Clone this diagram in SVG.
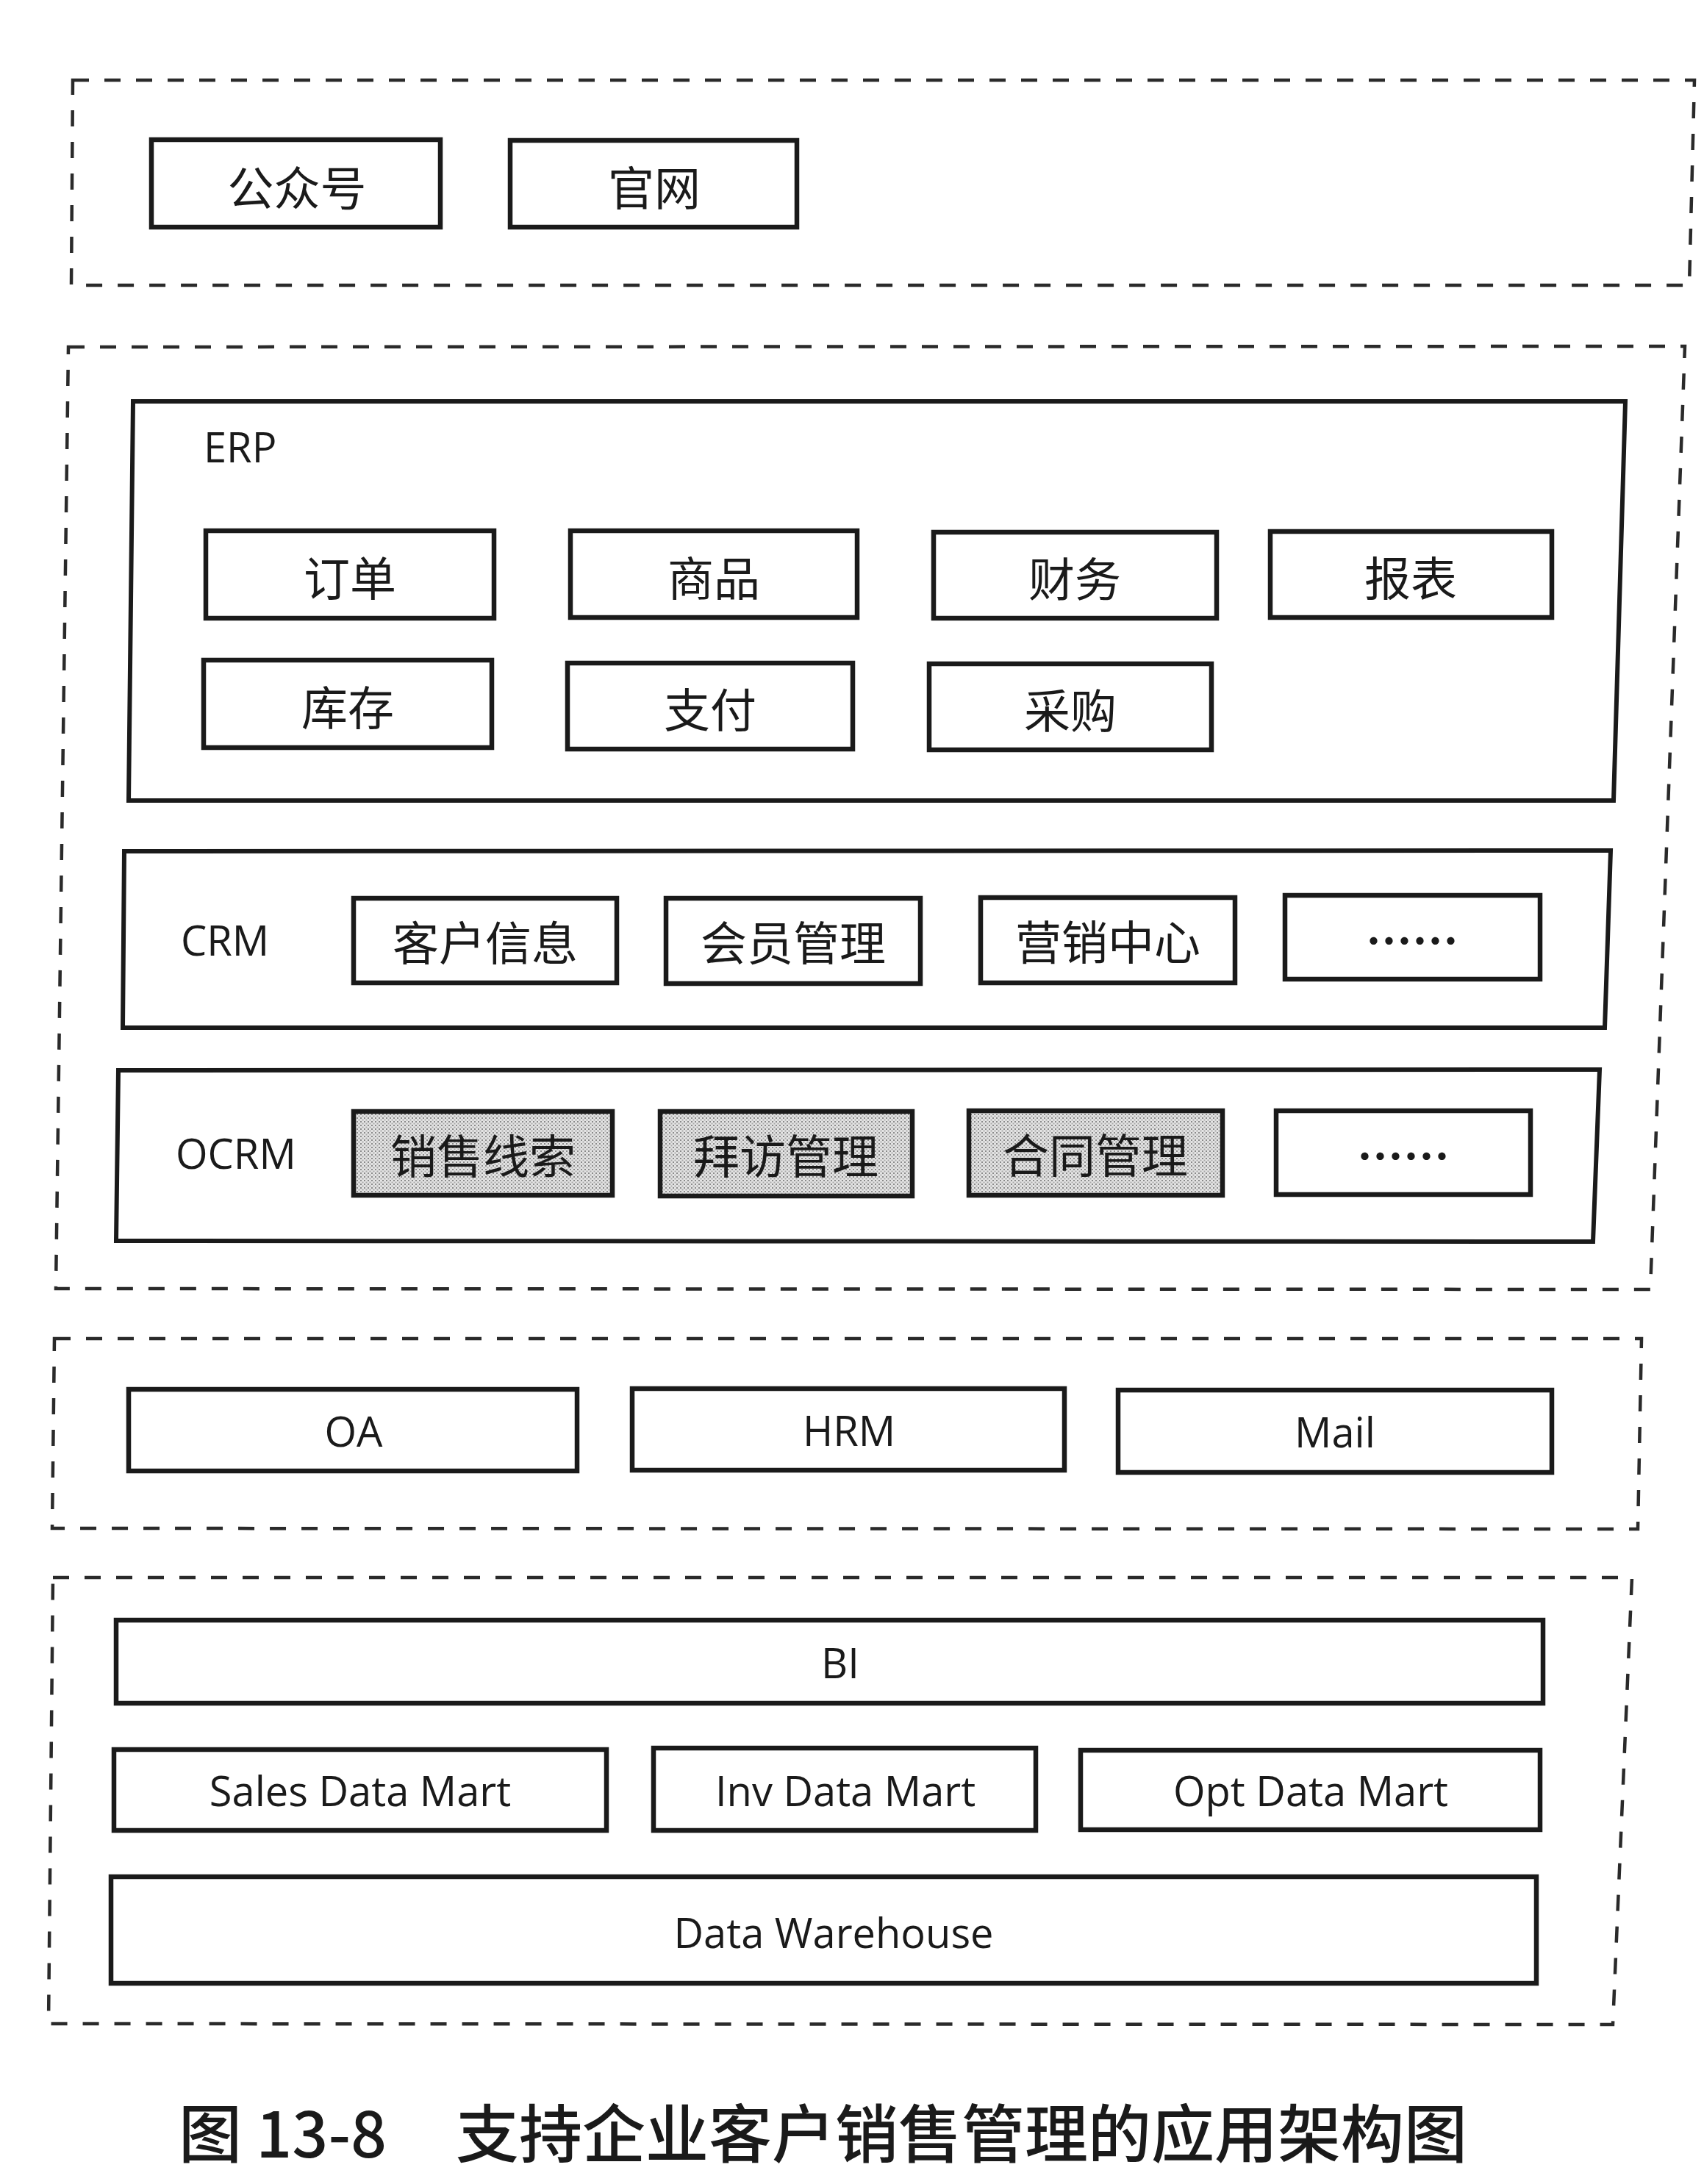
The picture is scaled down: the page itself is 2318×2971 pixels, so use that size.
<svg xmlns="http://www.w3.org/2000/svg" width="2318" height="2971" viewBox="0 0 2318 2971">
  <style>
    .zone { fill: none; stroke: #2a2a2a; stroke-width: 4.5; stroke-dasharray: 22 21; }
    .box { fill: #ffffff; stroke: #1a1a1a; stroke-width: 6.5; }
    .frame { fill: none; stroke: #1a1a1a; stroke-width: 6; }
    .shaded { fill: url(#dots); stroke: #1a1a1a; stroke-width: 6.5; }
    .zh { font-family: "Noto Sans CJK SC", "Noto Sans", sans-serif; font-size: 63px; fill: #1a1a1a; text-anchor: middle; }
    .dots { font-family: "Noto Sans CJK SC", "Noto Sans", sans-serif; font-size: 63px; font-weight: 700; fill: #1a1a1a; text-anchor: middle; }
    .en { font-family: "Open Sans", "Liberation Sans", sans-serif; font-size: 56px; font-weight: 500; fill: #1a1a1a; text-anchor: middle; }
    .lbl { font-family: "Open Sans", "Liberation Sans", sans-serif; font-size: 56px; font-weight: 500; fill: #1a1a1a; }
    .cap { font-family: "Noto Sans CJK SC", "Noto Sans", sans-serif; font-size: 86px; font-weight: 500; fill: #1a1a1a; }
  </style>
  <defs>
    <pattern id="dots" x="0" y="0" width="5" height="5" patternUnits="userSpaceOnUse">
      <rect width="5" height="5" fill="#e4e4e4"/>
      <rect x="0" y="0" width="2" height="2" fill="#8a8a8a"/>
      <rect x="2.5" y="2.5" width="2" height="2" fill="#a8a8a8"/>
    </pattern>
  </defs>
  <rect width="2318" height="2971" fill="#ffffff"/>

  <!-- Dashed zones -->
  <g id="zone-channel">
    <path class="zone" d="M99,109 L2305,109 L2298,388 L97,388 Z"/>
  </g>
  <g id="zone-business">
    <path class="zone" d="M93,472 L2292,471 L2245,1754 L76,1753 Z"/>
  </g>
  <g id="zone-office">
    <path class="zone" d="M74,1821 L2233,1821 L2228,2080 L71,2079 Z"/>
  </g>
  <g id="zone-data">
    <path class="zone" d="M72,2146 L2220,2146 L2194,2754 L66,2753 Z"/>
  </g>

  <!-- Channel layer -->
  <g id="node-gongzhonghao">
    <rect class="box" x="206" y="190" width="393" height="119"/>
    <text class="zh" x="404" y="279">公众号</text>
  </g>
  <g id="node-guanwang">
    <rect class="box" x="694" y="191" width="390" height="118"/>
    <text class="zh" x="890" y="279">官网</text>
  </g>

  <!-- ERP -->
  <g id="node-erp">
    <path class="frame" d="M181,546 L2211,546 L2195,1089 L175,1089 Z"/>
    <text class="lbl" x="277" y="629">ERP</text>
  </g>
  <g id="node-dingdan">
    <rect class="box" x="280" y="722" width="392" height="119"/>
    <text class="zh" x="476" y="810">订单</text>
  </g>
  <g id="node-shangpin">
    <rect class="box" x="776" y="722" width="390" height="118"/>
    <text class="zh" x="971" y="810">商品</text>
  </g>
  <g id="node-caiwu">
    <rect class="box" x="1270" y="724" width="385" height="117"/>
    <text class="zh" x="1462" y="811">财务</text>
  </g>
  <g id="node-baobiao">
    <rect class="box" x="1728" y="723" width="383" height="117"/>
    <text class="zh" x="1919" y="810">报表</text>
  </g>
  <g id="node-kucun">
    <rect class="box" x="277" y="898" width="392" height="119"/>
    <text class="zh" x="473" y="986">库存</text>
  </g>
  <g id="node-zhifu">
    <rect class="box" x="772" y="902" width="388" height="117"/>
    <text class="zh" x="966" y="989">支付</text>
  </g>
  <g id="node-caigou">
    <rect class="box" x="1264" y="903" width="384" height="117"/>
    <text class="zh" x="1456" y="990">采购</text>
  </g>

  <!-- CRM -->
  <g id="node-crm">
    <path class="frame" d="M169,1158 L2191,1157 L2183,1398 L167,1398 Z"/>
    <text class="lbl" x="246" y="1300">CRM</text>
  </g>
  <g id="node-kehuxinxi">
    <rect class="box" x="481" y="1222" width="358" height="115"/>
    <text class="zh" x="660" y="1306">客户信息</text>
  </g>
  <g id="node-huiyuanguanli">
    <rect class="box" x="906" y="1222" width="346" height="116"/>
    <text class="zh" x="1079" y="1306">会员管理</text>
  </g>
  <g id="node-yingxiaozhongxin">
    <rect class="box" x="1334" y="1221" width="346" height="116"/>
    <text class="zh" x="1507" y="1305">营销中心</text>
  </g>
  <g id="node-crm-more">
    <rect class="box" x="1748" y="1218" width="347" height="114"/>
    <text class="dots" xml:lang="zh-CN" x="1921" y="1303">……</text>
  </g>

  <!-- OCRM -->
  <g id="node-ocrm">
    <path class="frame" d="M161,1456 L2176,1455 L2167,1689 L158,1688 Z"/>
    <text class="lbl" x="239" y="1590">OCRM</text>
  </g>
  <g id="node-xiaoshouxiansuo">
    <rect class="shaded" x="481" y="1512" width="352" height="114"/>
    <text class="zh" x="657" y="1596">销售线索</text>
  </g>
  <g id="node-baifangguanli">
    <rect class="shaded" x="898" y="1512" width="343" height="115"/>
    <text class="zh" x="1069" y="1596">拜访管理</text>
  </g>
  <g id="node-hetongguanli">
    <rect class="shaded" x="1318" y="1511" width="345" height="115"/>
    <text class="zh" x="1490" y="1595">合同管理</text>
  </g>
  <g id="node-ocrm-more">
    <rect class="box" x="1736" y="1511" width="346" height="114"/>
    <text class="dots" xml:lang="zh-CN" x="1909" y="1596">……</text>
  </g>

  <!-- Office layer -->
  <g id="node-oa">
    <rect class="box" x="175" y="1890" width="610" height="111"/>
    <text class="en" x="481" y="1968">OA</text>
  </g>
  <g id="node-hrm">
    <rect class="box" x="860" y="1889" width="588" height="111"/>
    <text class="en" x="1155" y="1967">HRM</text>
  </g>
  <g id="node-mail">
    <rect class="box" x="1521" y="1891" width="590" height="112"/>
    <text class="en" x="1816" y="1969">Mail</text>
  </g>

  <!-- Data layer -->
  <g id="node-bi">
    <rect class="box" x="158" y="2204" width="1941" height="113"/>
    <text class="en" x="1143" y="2283">BI</text>
  </g>
  <g id="node-sales-mart">
    <rect class="box" x="155" y="2380" width="670" height="110"/>
    <text class="en" x="490" y="2457">Sales Data Mart</text>
  </g>
  <g id="node-inv-mart">
    <rect class="box" x="889" y="2378" width="520" height="112"/>
    <text class="en" x="1150" y="2457">Inv Data Mart</text>
  </g>
  <g id="node-opt-mart">
    <rect class="box" x="1470" y="2381" width="625" height="108"/>
    <text class="en" x="1783" y="2457">Opt Data Mart</text>
  </g>
  <g id="node-dw">
    <rect class="box" x="151" y="2553" width="1939" height="145"/>
    <text class="en" x="1134" y="2650">Data Warehouse</text>
  </g>

  <g id="connectors"></g>

  <!-- Caption -->
  <g id="caption">
    <text class="cap" x="243" y="2935">图 13-8</text>
    <text class="cap" x="620" y="2935">支持企业客户销售管理的应用架构图</text>
  </g>
</svg>
